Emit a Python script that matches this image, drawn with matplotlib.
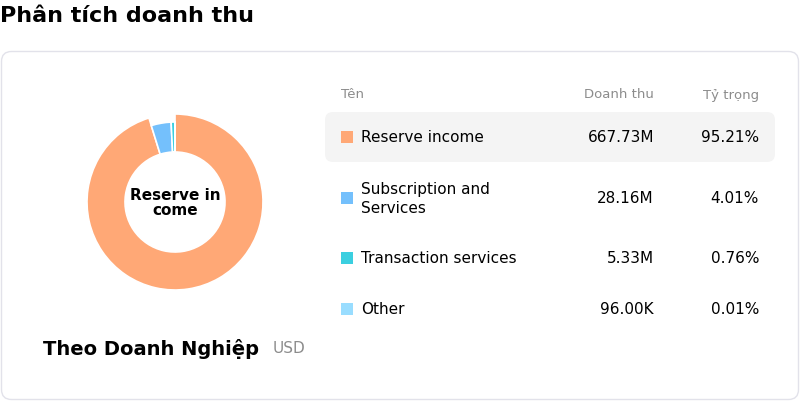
import matplotlib
matplotlib.use("Agg")
import matplotlib.pyplot as plt
from matplotlib.patches import FancyBboxPatch, Rectangle

names = ["Reserve income", "Subscription and\nServices", "Transaction services", "Other"]
values = [667.73, 28.16, 5.33, 0.096]
rev_labels = ["667.73M", "28.16M", "5.33M", "96.00K"]
share_labels = ["95.21%", "4.01%", "0.76%", "0.01%"]
colors = ["#FFA876", "#74C0FC", "#3BCFE0", "#99DDFF"]

W, H = 800, 402
fig = plt.figure(figsize=(8, 4.02), dpi=100)
bg = fig.add_axes([0, 0, 1, 1])
bg.set_xlim(0, W); bg.set_ylim(H, 0); bg.axis("off")

bg.text(0, 16, "Phân tích doanh thu", fontsize=16, fontweight="bold", va="center", ha="left")
bg.add_patch(FancyBboxPatch((1.5, 52.5), 797, 348, boxstyle="round,pad=0,rounding_size=10",
                            fc="white", ec="#e2e2ea", lw=1))

# donut
cx, cy, s = 175, 203, 200
pax = fig.add_axes([(cx - s/2)/W, 1 - (cy + s/2)/H, s/W, s/H])
wedges, _ = pax.pie(values, colors=colors, startangle=90, counterclock=False,
                    radius=80, wedgeprops=dict(width=30, edgecolor="white", linewidth=1.2))
wedges[0].set_radius(88); wedges[0].set_width(38)
pax.set_xlim(-100, 100); pax.set_ylim(-100, 100); pax.set_aspect("equal")
pax.text(0, 0, "Reserve in\ncome", ha="center", va="center", fontsize=11, fontweight="bold",
         linespacing=1.0)

bg.text(43, 349, "Theo Doanh Nghiệp", fontsize=14, fontweight="bold", va="center", ha="left")
bg.text(273, 349, "USD", fontsize=11, color="#8c8c8c", va="center", ha="left")

# table
gray = "#8c8c8c"
bg.text(341, 95, "Tên", fontsize=9.5, color=gray, va="center")
bg.text(654, 95, "Doanh thu", fontsize=9.5, color=gray, va="center", ha="right")
bg.text(759, 95, "Tỷ trọng", fontsize=9.5, color=gray, va="center", ha="right")
bg.add_patch(FancyBboxPatch((325, 113), 450, 50, boxstyle="round,pad=0,rounding_size=8",
                            fc="#f4f4f4", ec="none"))
rows_y = [138, 199, 259, 310]
for i, y in enumerate(rows_y):
    bg.add_patch(Rectangle((341, y - 6), 12, 12, fc=colors[i], ec="none"))
    bg.text(361, y, names[i], fontsize=11, va="center", ha="left", linespacing=1.3)
    bg.text(654, y, rev_labels[i], fontsize=11, va="center", ha="right")
    bg.text(759, y, share_labels[i], fontsize=11, va="center", ha="right")

fig.savefig("out.png", dpi=100)
